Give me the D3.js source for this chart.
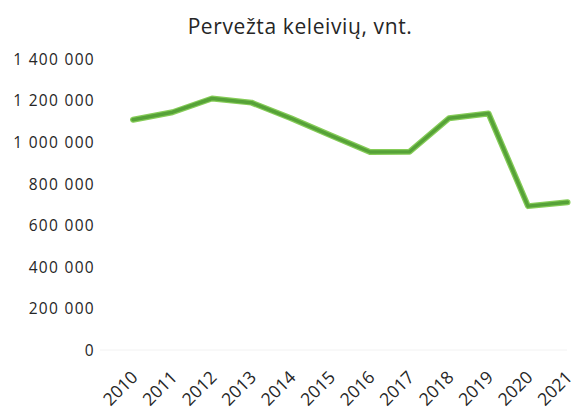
<!DOCTYPE html>
<html lang="lt">
<head>
<meta charset="UTF-8">
<title>Pervežta keleivių</title>
<script src="https://cdn.jsdelivr.net/npm/d3@7"></script>
<style>
body { margin: 0; background: #fff; }
text { font-family: "Open Sans", "Noto Sans", sans-serif; fill: #262626; }
</style>
</head>
<body>
<svg width="572" height="408"></svg>
<script>
// duomenys
var years = ['2010', '2011', '2012', '2013', '2014', '2015', '2016', '2017', '2018', '2019', '2020', '2021'];
var passengers = [1106000, 1142000, 1208000, 1188000, 1113000, 1031000, 951000, 952000, 1113000, 1136000, 691000, 710000];
var yTicks = [0, 200000, 400000, 600000, 800000, 1000000, 1200000, 1400000];
var title = 'Pervežta keleivių, vnt.';

var svg = d3.select('svg');
var mLeft = 133, mRight = 567.5, mTop = 58.5, mBottom = 350;

var x = d3.scalePoint().domain(years).range([mLeft, mRight]);
var y = d3.scaleLinear().domain([0, 1400000]).range([mBottom, mTop]);

function fmt(v) {
    return d3.format(',')(v).replace(/,/g, ' ');
}

svg.append('text')
    .attr('x', 300).attr('y', 34)
    .attr('text-anchor', 'middle')
    .attr('font-size', 21)
    .attr('letter-spacing', 0.6)
    .text(title);

// y ašis
var ya = svg.append('g').attr('transform', 'translate(95,0)')
    .call(d3.axisLeft(y).tickValues(yTicks).tickFormat(fmt).tickSize(0).tickPadding(0));
ya.select('.domain').remove();
ya.selectAll('text')
    .attr('font-size', 15.5)
    .attr('letter-spacing', 1.3)
    .attr('dy', '0.36em');

// x ašis
svg.append('line')
    .attr('x1', 100).attr('x2', 567)
    .attr('y1', mBottom).attr('y2', mBottom)
    .attr('stroke', '#f2f2f2').attr('stroke-width', 1);

var xa = svg.append('g').attr('transform', 'translate(0,' + mBottom + ')')
    .call(d3.axisBottom(x).tickSize(0).tickPadding(0));
xa.select('.domain').remove();
xa.selectAll('text')
    .attr('font-size', 17.5)
    .attr('letter-spacing', 0)
    .attr('text-anchor', 'end')
    .attr('y', 0)
    .attr('dy', '0.35em')
    .attr('transform', 'translate(1,24) rotate(-45)');

var line = d3.line()
    .x(function(d, i) { return x(years[i]); })
    .y(function(d) { return y(d); });

svg.append('path')
    .datum(passengers)
    .attr('d', line)
    .attr('fill', 'none')
    .attr('stroke', '#86cc58')
    .attr('stroke-width', 6)
    .attr('stroke-linejoin', 'round')
    .attr('stroke-linecap', 'round');

svg.append('path')
    .datum(passengers)
    .attr('d', line)
    .attr('fill', 'none')
    .attr('stroke', '#56a238')
    .attr('stroke-width', 3.5)
    .attr('stroke-linejoin', 'round')
    .attr('stroke-linecap', 'round');
</script>
</body>
</html>
